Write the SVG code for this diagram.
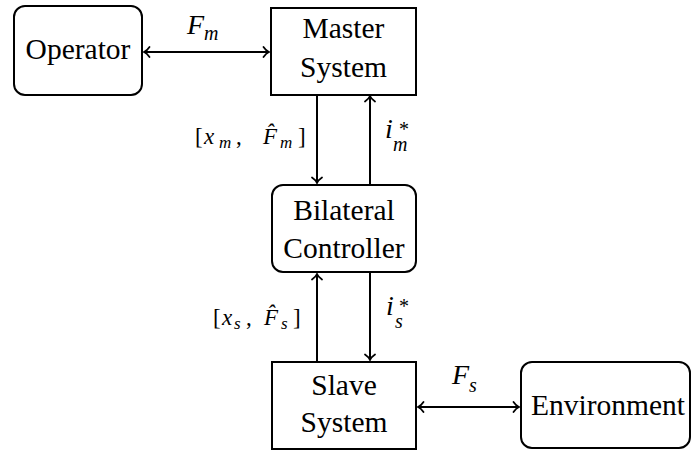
<svg xmlns="http://www.w3.org/2000/svg" width="691" height="450" viewBox="0 0 691 450">
  <defs>
    <style>
      .box { fill: #ffffff; stroke: #000000; stroke-width: 2; }
      .lbl { font-family: "Liberation Serif", "DejaVu Serif", serif; font-size: 29.5px; fill: #000000; text-anchor: middle; }
      .math { font-family: "Liberation Serif", "DejaVu Serif", serif; font-style: italic; fill: #000000; }
      .rm { font-family: "Liberation Serif", "DejaVu Serif", serif; fill: #000000; }
      .wire { stroke: #000000; stroke-width: 2; fill: none; }
    </style>
    <marker id="tip" markerUnits="userSpaceOnUse" markerWidth="14" markerHeight="14" viewBox="-7 -7 14 14" refX="0" refY="0" orient="auto-start-reverse">
      <path d="M -5.5 -5 C -3.5 -2, -1.5 -0.6, 0 0 C -1.5 0.6, -3.5 2, -5.5 5" fill="none" stroke="#000000" stroke-width="1.8" stroke-linecap="round"/>
    </marker>
  </defs>

  <!-- connectors -->
  <g id="connectors">
    <line class="wire" x1="144" y1="52" x2="269" y2="52" marker-start="url(#tip)" marker-end="url(#tip)"/>
    <line class="wire" x1="317" y1="96" x2="317" y2="183" marker-end="url(#tip)"/>
    <line class="wire" x1="370" y1="184" x2="370" y2="96" marker-end="url(#tip)"/>
    <line class="wire" x1="317" y1="361" x2="317" y2="274" marker-end="url(#tip)"/>
    <line class="wire" x1="370" y1="273" x2="370" y2="360" marker-end="url(#tip)"/>
    <line class="wire" x1="418" y1="407" x2="519" y2="407" marker-start="url(#tip)" marker-end="url(#tip)"/>

    <!-- signal labels -->
    <text x="187" y="34"><tspan class="math" font-size="28">F</tspan><tspan class="math" font-size="20" dy="6">m</tspan></text>

    <text x="452" y="384"><tspan class="math" font-size="28">F</tspan><tspan class="math" font-size="20" dy="8">s</tspan></text>

    <text y="144"><tspan class="rm" font-size="23" x="195">[</tspan><tspan class="math" font-size="23" x="204">x</tspan><tspan class="math" font-size="17" x="219" y="148">m</tspan><tspan class="rm" font-size="23" x="236" y="144">,</tspan><tspan class="math" font-size="23" x="263">F̂</tspan><tspan class="math" font-size="17" x="280" y="148">m</tspan><tspan class="rm" font-size="23" x="298" y="144">]</tspan></text>

    <text x="385" y="138"><tspan class="math" font-size="28">i</tspan><tspan class="rm" font-size="20" x="399" y="136">*</tspan><tspan class="math" font-size="20" x="393" y="151">m</tspan></text>

    <text y="325"><tspan class="rm" font-size="23" x="213">[</tspan><tspan class="math" font-size="23" x="222">x</tspan><tspan class="math" font-size="17" x="234" y="329">s</tspan><tspan class="rm" font-size="23" x="246" y="325">,</tspan><tspan class="math" font-size="23" x="264">F̂</tspan><tspan class="math" font-size="17" x="281" y="329">s</tspan><tspan class="rm" font-size="23" x="293" y="325">]</tspan></text>

    <text x="386" y="315"><tspan class="math" font-size="28">i</tspan><tspan class="rm" font-size="20" x="399" y="313">*</tspan><tspan class="math" font-size="20" x="395" y="328">s</tspan></text>
  </g>

  <!-- nodes -->
  <g id="operator">
    <rect class="box" x="14" y="6" width="128" height="89" rx="11"/>
    <text class="lbl" x="78" y="59">Operator</text>
  </g>

  <g id="master">
    <rect class="box" x="271" y="8" width="145" height="87"/>
    <text class="lbl" x="343.5" y="38">Master</text>
    <text class="lbl" x="343.5" y="77">System</text>
  </g>

  <g id="controller">
    <rect class="box" x="272" y="185" width="144" height="87" rx="11"/>
    <text class="lbl" x="344" y="220">Bilateral</text>
    <text class="lbl" x="344" y="258">Controller</text>
  </g>

  <g id="slave">
    <rect class="box" x="272" y="362" width="144" height="87"/>
    <text class="lbl" x="344" y="395">Slave</text>
    <text class="lbl" x="344" y="432">System</text>
  </g>

  <g id="environment">
    <rect class="box" x="521" y="362" width="169" height="86" rx="11"/>
    <text class="lbl" x="608" y="415">Environment</text>
  </g>
</svg>
